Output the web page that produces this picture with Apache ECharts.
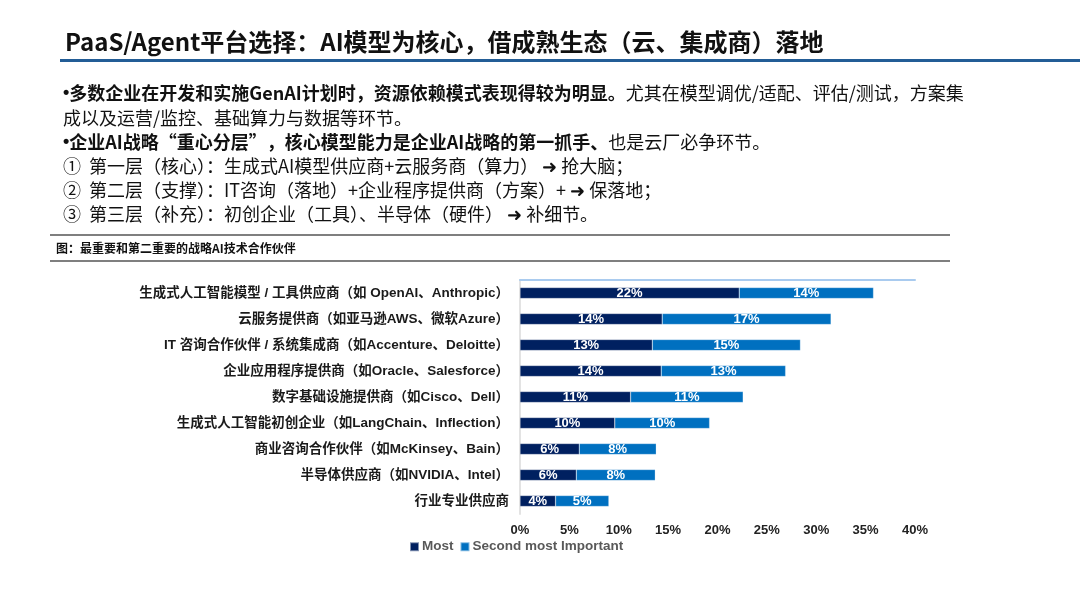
<!DOCTYPE html>
<html>
<head>
<meta charset="utf-8">
<title>战略AI技术合作伙伴</title>
<script src="https://cdn.jsdelivr.net/npm/echarts@6/dist/echarts.min.js"></script>
<style>
  html, body { margin: 0; padding: 0; background: #fff; }
  #main { width: 1080px; height: 608px; }
</style>
</head>
<body>
<div id="main"></div>
<script>
// 合作伙伴类别
var categories = [
  '生成式人工智能模型 / 工具供应商（如 OpenAI、Anthropic）',
  '云服务提供商（如亚马逊AWS、微软Azure）',
  'IT 咨询合作伙伴 / 系统集成商（如Accenture、Deloitte）',
  '企业应用程序提供商（如Oracle、Salesforce）',
  '数字基础设施提供商（如Cisco、Dell）',
  '生成式人工智能初创企业（如LangChain、Inflection）',
  '商业咨询合作伙伴（如McKinsey、Bain）',
  '半导体供应商（如NVIDIA、Intel）',
  '行业专业供应商'
];
// 最重要 (%)
var mostValues = [22.2, 14.4, 13.4, 14.3, 11.2, 9.6, 6.0, 5.7, 3.6];
// 第二重要 (%)
var secondValues = [13.6, 17.1, 15.0, 12.6, 11.4, 9.6, 7.8, 8.0, 5.4];
var seriesNames = ['Most', 'Second most Important'];
var xTicks = { min: 0, max: 40, interval: 5 };

var titleText = 'PaaS/Agent平台选择：AI模型为核心，借成熟生态（云、集成商）落地';
var captionText = '图：最重要和第二重要的战略AI技术合作伙伴';

var cjk = '"Noto Sans CJK SC", sans-serif';
var latin = '"Liberation Sans", "Noto Sans CJK SC", sans-serif';

var myChart = echarts.init(document.getElementById('main'));

function textLine(y, richText) {
  return {
    type: 'text',
    x: 63,
    y: y,
    style: {
      text: richText,
      verticalAlign: 'middle',
      rich: {
        d: { fontFamily: latin, fontSize: 18, fontWeight: 'bold', fill: '#111' },
        b: { fontFamily: cjk, fontSize: 18, fontWeight: 'bold', fill: '#111' },
        r: { fontFamily: cjk, fontSize: 18, fontWeight: 'normal', fill: '#111' }
      }
    }
  };
}

var barLabel = {
  show: true,
  position: 'inside',
  color: '#fff',
  fontSize: 13,
  fontWeight: 'bold',
  fontFamily: latin,
  formatter: function (p) { return Math.round(p.value) + '%'; }
};

myChart.setOption({
  animation: false,
  backgroundColor: '#fff',
  graphic: [
    {
      type: 'text', x: 65, y: 42,
      style: { text: titleText, font: 'bold 24px ' + cjk, fill: '#111', verticalAlign: 'middle' }
    },
    {
      type: 'line', shape: { x1: 60, y1: 60.5, x2: 1080, y2: 60.5 },
      style: { stroke: '#235D96', lineWidth: 3 }
    },
    textLine(93, '{d|•}{b|多数企业在开发和实施GenAI计划时，资源依赖模式表现得较为明显。}{r|尤其在模型调优/适配、评估/测试，方案集}'),
    textLine(118, '{r|成以及运营/监控、基础算力与数据等环节。}'),
    textLine(142, '{d|•}{b|企业AI战略“重心分层”，核心模型能力是企业AI战略的第一抓手、}{r|也是云厂必争环节。}'),
    textLine(166, '{r|①  第一层（核心）：生成式AI模型供应商+云服务商（算力） ➜ 抢大脑；}'),
    textLine(190, '{r|②  第二层（支撑）：IT咨询（落地）+企业程序提供商（方案）+ ➜ 保落地；}'),
    textLine(214, '{r|③  第三层（补充）：初创企业（工具）、半导体（硬件） ➜ 补细节。}'),
    {
      type: 'line', shape: { x1: 50, y1: 235, x2: 950, y2: 235 },
      style: { stroke: '#555', lineWidth: 1.5 }
    },
    {
      type: 'text', x: 56, y: 248,
      style: { text: captionText, font: 'bold 12px ' + cjk, fill: '#111', verticalAlign: 'middle' }
    },
    {
      type: 'line', shape: { x1: 50, y1: 261, x2: 950, y2: 261 },
      style: { stroke: '#555', lineWidth: 1.5 }
    }
  ],
  legend: {
    left: 404,
    top: 535,
    itemWidth: 9,
    itemHeight: 9,
    itemGap: 6,
    icon: 'rect',
    textStyle: { color: '#595959', fontSize: 13.5, fontWeight: 'bold', fontFamily: latin, padding: [0, 0, 0, -2] },
    data: seriesNames
  },
  grid: {
    left: 520,
    right: 165,
    top: 280,
    bottom: 94,
    containLabel: false
  },
  xAxis: [
    {
      type: 'value',
      min: xTicks.min,
      max: xTicks.max,
      interval: xTicks.interval,
      position: 'bottom',
      axisLine: { show: false },
      axisTick: { show: false },
      splitLine: { show: false },
      axisLabel: {
        formatter: '{value}%',
        color: '#222',
        fontSize: 13,
        fontWeight: 'bold',
        fontFamily: latin,
        margin: 10
      }
    },
    {
      // 顶部浅蓝边线
      type: 'value',
      min: xTicks.min,
      max: xTicks.max,
      interval: xTicks.interval,
      position: 'top',
      axisLine: { show: true, lineStyle: { color: '#A9CBEF', width: 2 } },
      axisTick: { show: false },
      splitLine: { show: false },
      axisLabel: { show: false }
    }
  ],
  yAxis: {
    type: 'category',
    inverse: true,
    data: categories,
    axisTick: { show: false },
    axisLine: { lineStyle: { color: '#E3E3E3', width: 2 } },
    axisLabel: {
      color: '#1a1a1a',
      fontSize: 13.5,
      fontWeight: 'bold',
      fontFamily: latin,
      margin: 11
    }
  },
  series: [
    {
      name: seriesNames[0],
      type: 'bar',
      stack: 'total',
      barWidth: 11,
      data: mostValues,
      itemStyle: { color: '#002060', borderColor: 'rgba(255,255,255,0.5)', borderWidth: 0.5 },
      label: barLabel
    },
    {
      name: seriesNames[1],
      type: 'bar',
      stack: 'total',
      barWidth: 11,
      data: secondValues,
      itemStyle: { color: '#0070C0', borderColor: 'rgba(255,255,255,0.5)', borderWidth: 0.5 },
      label: barLabel
    }
  ]
});

window.addEventListener('resize', function () {
  myChart.resize();
});
</script>
</body>
</html>
